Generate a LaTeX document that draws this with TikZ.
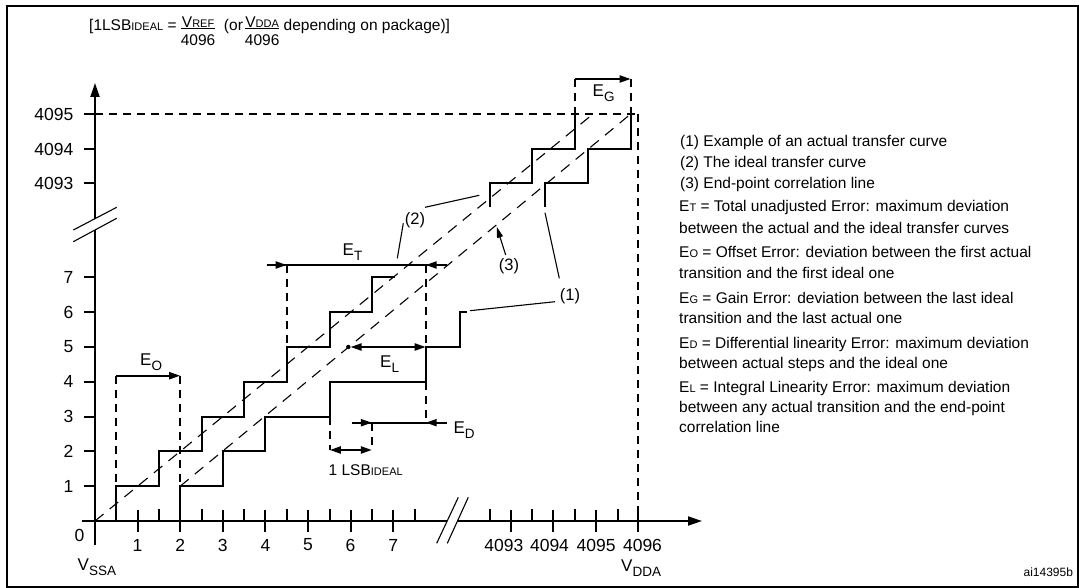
\documentclass[tikz,border=0pt]{standalone}
\usepackage{fontspec}
\setmainfont{Liberation Sans}
\usetikzlibrary{arrows.meta}
\newcommand\sm[1]{{\fontsize{11pt}{11pt}\selectfont #1}}
\newcommand\sbs[1]{\raisebox{-5pt}{\fontsize{13.5pt}{13.5pt}\selectfont #1}}
\newcommand\frc[2]{\raisebox{3pt}{\begin{tabular}[t]{@{}c@{}}#1\\[-5pt]\hline\rule{0pt}{16.5pt}#2\end{tabular}}}
\setlength\arrayrulewidth{1pt}
\begin{document}
\begin{tikzpicture}[x=1pt,y=-1pt,
  ln/.style={line width=2pt},
  dsh/.style={line width=2pt,dash pattern=on 8pt off 6pt},
  diag/.style={line width=1.1pt,dash pattern=on 11pt off 8pt},
  lead/.style={line width=1.1pt},
  arr/.style={line width=2pt,-{Triangle[length=11pt,width=7pt]}},
  darr/.style={line width=2pt,{Triangle[length=11pt,width=7pt]}-{Triangle[length=11pt,width=7pt]}},
  axarr/.style={line width=2pt,-{Triangle[length=14pt,width=9pt]}},
  lbl/.style={inner sep=0pt,font=\fontsize{17.5pt}{20pt}\selectfont},
  clbl/.style={inner sep=0pt,font=\fontsize{16.5pt}{19pt}\selectfont},
  elbl/.style={inner sep=0pt,anchor=base west,font=\fontsize{17pt}{20pt}\selectfont},
  leg/.style={inner sep=0pt,anchor=base west,font=\fontsize{15.5pt}{18pt}\selectfont}]
\useasboundingbox (0,0) rectangle (1079,588);
% frame
\draw[line width=2pt] (7,6) rectangle (1077.5,587);
% formula
\node[inner sep=0pt,anchor=base west,font=\fontsize{15.5pt}{18pt}\selectfont] (formula) at (89,30.5)
  {[1LSB\sm{IDEAL} = \frc{V\sm{REF}}{4096}\ \ (or\kern2pt\frc{V\sm{DDA}}{4096} depending on package)]};
% axes
\draw[ln] (95,545) -- (95,230);
\draw[axarr] (95,218.7) -- (95,83);
\draw[lead] (73.3,230) -- (116.7,207.3);
\draw[lead] (73.3,241.7) -- (116.7,218.3);
\draw[ln] (82,521) -- (447.2,521);
\draw[axarr] (457.5,521) -- (702,521);
\draw[lead] (436.7,543.3) -- (458.3,497.3);
\draw[lead] (447.3,543.3) -- (468.3,497.3);
% x ticks
\foreach \x in {116.3,158.9,201.5,244.1,286.7,329.8,371.9,414.5,490,531.7,575,617.7}
  \draw[ln] (\x,508.5) -- (\x,521);
\foreach \x in {137.6,180.2,222.8,265.4,308,350.6,393.2,511,553.3,596,638.3}
  \draw[ln] (\x,509.5) -- (\x,532);
% y ticks
\foreach \y in {486.2,451.4,416.6,381.8,347,312.2,277.4,183.5,149,114}
  \draw[ln] (84,\y) -- (95,\y);
% y labels
\foreach \y/\t [count=\i] in {486.2/1,451.4/2,416.6/3,381.8/4,347/5,312.2/6,277.4/7,183.5/4093,149/4094,114/4095}
  \node[lbl,anchor=east] (yl\i) at (73.5,\y) {\t};
% x labels
\node[lbl] (xl0) at (79.5,535.5) {0};
\foreach \x/\t [count=\i] in {137.6/1,180.2/2,222.8/3,265.4/4,308/5,350.6/6,393.2/7,503.8/4093,549.5/4094,596.2/4095,642.5/4096}
  \node[lbl] (xl\i) at (\x,545) {\t};
\node[elbl] (vssa) at (77.5,570) {V\sbs{SSA}};
\node[elbl] (vdda) at (621,571.5) {V\sbs{DDA}};
% 4095 / 4096 dashed guides
\draw[dsh] (95,114) -- (638.3,114);
\draw[dsh] (638.3,114) -- (638.3,521);
% diagonal dashed lines
\draw[diag] (95,521) -- (593,114);
\draw[diag] (180.2,486.2) -- (630.7,114);
% ideal transfer curve (2)
\draw[ln] (116.3,521) |- (158.9,486.2) |- (201.5,451.4) |- (244.1,416.6) |- (286.7,381.8)
  |- (329.8,347) |- (371.9,312.2) |- (395,277.4);
\draw[ln] (490,207.3) |- (531.7,183.5) |- (575,149) -- (575,114);
% actual transfer curve (1)
\draw[ln] (180.2,521) |- (222.8,486.2) |- (265.4,451.4) |- (329.8,416.6) |- (425.7,381.8)
  |- (460,347) |- (467,312.2);
\draw[ln] (545,207.3) |- (588.3,183.5) |- (630.7,149) -- (630.7,114);
% E_O
\draw[dsh] (116.3,375.7) -- (116.3,486.2);
\draw[dsh] (180.2,375.7) -- (180.2,486.2);
\draw[arr] (116.3,375.7) -- (180.2,375.7);
\node[elbl] (eo) at (140,365) {E\sbs{O}};
% E_G
\draw[dsh] (575,79) -- (575,114);
\draw[dsh] (630.7,79) -- (630.7,114);
\draw[arr] (575,79) -- (630.7,79);
\node[elbl] (eg) at (592.5,97) {E\sbs{G}};
% E_T
\draw[dsh] (286.7,265) -- (286.7,347);
\draw[dsh] (425.7,265) -- (425.7,347);
\draw[dsh] (425.7,381.8) -- (425.7,422.7);
\draw[ln] (266.7,265) -- (446.7,265);
\draw[arr] (266.7,265) -- (286.7,265);
\draw[arr] (446.7,265) -- (425.7,265);
\node[elbl] (et) at (342.5,255) {E\sbs{T}};
% E_L
\fill (348.3,347) circle (2.2pt);
\draw[darr] (350.5,347) -- (425.7,347);
\node[elbl] (el) at (380,367.7) {E\sbs{L}};
% E_D
\draw[ln] (351.7,422.7) -- (446.7,422.7);
\draw[arr] (351.7,422.7) -- (371.9,422.7);
\draw[arr] (446.7,422.7) -- (425.7,422.7);
\node[elbl] (ed) at (453.3,433.3) {E\sbs{D}};
% 1 LSB
\draw[dsh] (329.8,416.6) -- (329.8,450);
\draw[dsh] (371.9,422.7) -- (371.9,450);
\draw[darr] (329.8,450) -- (371.9,450);
\node[inner sep=0pt,font=\fontsize{15.5pt}{18pt}\selectfont] (lsb) at (365.7,470) {1 LSB\sm{IDEAL}};
% curve labels
\node[clbl] (c2) at (415,220) {(2)};
\node[clbl] (c3) at (509,266.7) {(3)};
\node[clbl] (c1) at (570,296.7) {(1)};
\draw[lead] (425,207.3) -- (479.3,195.3);
\draw[lead] (403.3,223.3) -- (397.3,258.3);
\draw[lead,-{Triangle[length=11pt,width=6pt]}] (505.7,255) -- (496.7,226.7);
\draw[lead] (559.3,278.3) -- (545,212.7);
\draw[lead] (555,301.7) -- (470,310.7);
% legend
\node[leg] (g1) at (680,147) {(1) Example of an actual transfer curve};
\node[leg] (g2) at (680,168) {(2) The ideal transfer curve};
\node[leg] (g3) at (680,188.5) {(3) End-point correlation line};
\node[leg] (g4) at (679,212) {E\sm{T} = Total unadjusted Error: maximum deviation};
\node[leg] (g5) at (679,233.5) {between the actual and the ideal transfer curves};
\node[leg] (g6) at (679,257.5) {E\sm{O} = Offset Error: deviation between the first actual};
\node[leg] (g7) at (679,278.5) {transition and the first ideal one};
\node[leg] (g8) at (679,303) {E\sm{G} = Gain Error: deviation between the last ideal};
\node[leg] (g9) at (679,323.5) {transition and the last actual one};
\node[leg] (g10) at (679,348) {E\sm{D} = Differential linearity Error: maximum deviation};
\node[leg] (g11) at (679,368.5) {between actual steps and the ideal one};
\node[leg] (g12) at (679,392) {E\sm{L} = Integral Linearity Error: maximum deviation};
\node[leg] (g13) at (679,412) {between any actual transition and the end-point};
\node[leg] (g14) at (679,432) {correlation line};
\node[inner sep=0pt,font=\fontsize{12pt}{14pt}\selectfont] (ref) at (1048.3,572.7) {ai14395b};
\end{tikzpicture}
\end{document}
